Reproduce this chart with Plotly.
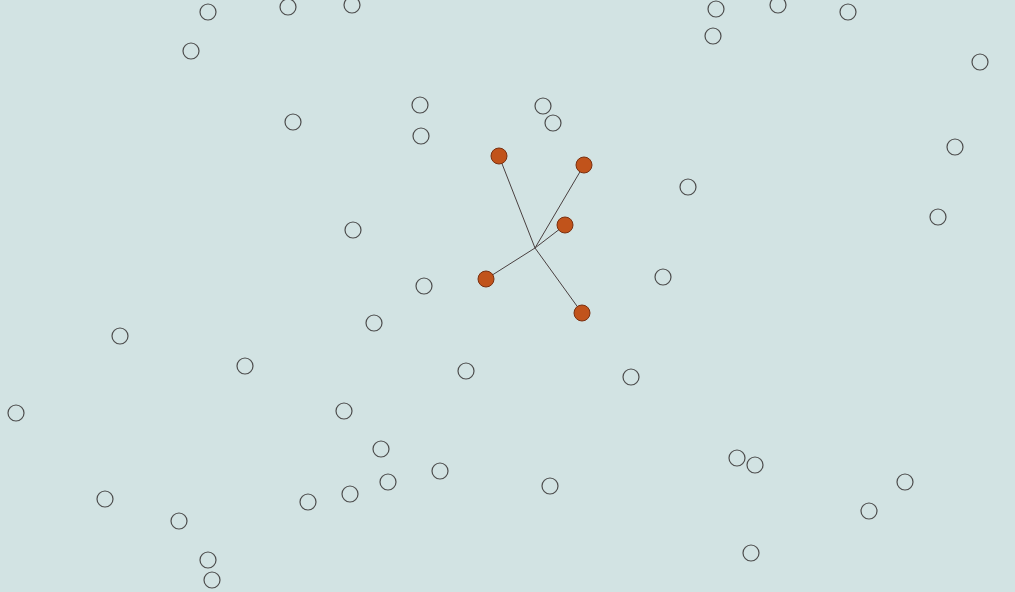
import plotly.graph_objects as go

# empty nodes (pixel-like layout coordinates)
node_x = [208, 288, 352, 191, 716, 778, 848, 713, 980, 420, 543, 553, 421, 293,
          955, 688, 938, 353, 663, 424, 374, 120, 245, 466, 631, 16, 344, 381,
          737, 755, 440, 388, 905, 550, 105, 350, 308, 179, 869, 208, 751, 212]
node_y = [12, 7, 5, 51, 9, 5, 12, 36, 62, 105, 106, 123, 136, 122,
          147, 187, 217, 230, 277, 286, 323, 336, 366, 371, 377, 413, 411, 449,
          458, 465, 471, 482, 482, 486, 499, 494, 502, 521, 511, 560, 553, 580]

# center point and its linked nodes
center_x = 535
center_y = 248
linked_x = [499, 584, 565, 486, 582]
linked_y = [156, 165, 225, 279, 313]

fig = go.Figure()

# lines from the center to each linked node
line_x = []
line_y = []
for lx, ly in zip(linked_x, linked_y):
    line_x += [center_x, lx, None]
    line_y += [center_y, ly, None]

fig.add_trace(go.Scatter(x=line_x, y=line_y, mode="lines",
                         line=dict(color="#4a4040", width=1), hoverinfo="skip"))

fig.add_trace(go.Scatter(x=node_x, y=node_y, mode="markers",
                         marker=dict(size=16, color="rgba(0,0,0,0)",
                                     line=dict(color="#4d4d4d", width=1.2))))

fig.add_trace(go.Scatter(x=linked_x, y=linked_y, mode="markers",
                         marker=dict(size=16, color="#c1531b",
                                     line=dict(color="#7a3010", width=1))))

fig.update_layout(
    width=1015, height=592,
    margin=dict(l=0, r=0, t=0, b=0),
    paper_bgcolor="#d2e3e3",
    plot_bgcolor="#d2e3e3",
    showlegend=False,
    xaxis=dict(range=[0, 1015], visible=False, fixedrange=True),
    yaxis=dict(range=[592, 0], visible=False, fixedrange=True),
)

# drop the browser's default body margin so the plot fills the window
fig.write_html("out.html", config={"displayModeBar": False},
               post_script="document.body.style.margin='0';document.body.style.overflow='hidden';")
